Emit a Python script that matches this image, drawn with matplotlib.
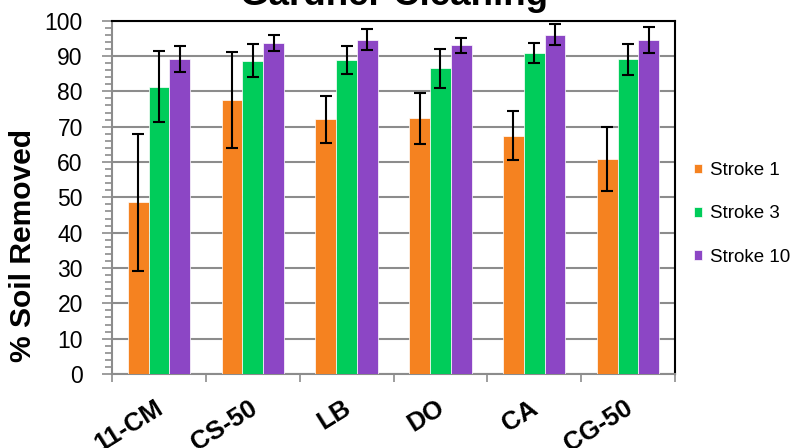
import numpy as np
import matplotlib
matplotlib.use('Agg')
import matplotlib.pyplot as plt
import matplotlib.transforms as mtransforms
from matplotlib.ticker import MultipleLocator

plt.rcParams['font.family'] = ['Liberation Sans', 'DejaVu Sans']

# datos
categorias = ['11-CM', 'CS-50', 'LB', 'DO', 'CA', 'CG-50']
series = ['Stroke 1', 'Stroke 3', 'Stroke 10']
stroke1 = [48.6, 77.6, 72.1, 72.4, 67.5, 60.9]
stroke3 = [81.3, 88.7, 88.9, 86.5, 90.9, 89.1]
stroke10 = [89.2, 93.7, 94.6, 93.0, 96.0, 94.5]
err1 = [19.4, 13.5, 6.6, 7.2, 7.0, 9.0]
err3 = [10.1, 4.7, 4.0, 5.5, 2.9, 4.4]
err10 = [3.6, 2.3, 3.0, 2.2, 3.0, 3.7]
colores = ['#F58220', '#00CC5A', '#8C46C5']

fig = plt.figure(figsize=(7.92, 4.48), dpi=100)
ax = fig.add_axes([112/792, 1 - 374/448, (675-112)/792, (374-20.7)/448])

x = np.arange(len(categorias))
ancho = 0.222
valores = [stroke1, stroke3, stroke10]
errores = [err1, err3, err10]
for i in range(3):
    ax.bar(x + (i - 1) * ancho, valores[i], ancho, color=colores[i], label=series[i],
           edgecolor='white', linewidth=0.5, zorder=3)
    ax.errorbar(x + (i - 1) * ancho, valores[i], yerr=errores[i], fmt='none',
                ecolor='black', elinewidth=1.5, capsize=4.3, capthick=1.5, zorder=4)

ax.set_xlim(-0.5, len(categorias) - 0.5)
ax.set_ylim(0, 100)
ax.set_yticks(range(0, 101, 10))
ax.yaxis.set_minor_locator(MultipleLocator(2))
ax.grid(axis='y', color='#8c8c8c', linewidth=1.5, zorder=0)

ax.set_xticks(np.arange(len(categorias) + 1) - 0.5)
ax.set_xticklabels([])
ax.set_xticks(x, categorias, minor=True)
ax.tick_params(axis='x', which='major', length=6, width=1.2, color='#8c8c8c')
ax.tick_params(axis='x', which='minor', length=0, pad=0)
off = mtransforms.ScaledTranslation(2/100, -32/100, fig.dpi_scale_trans)
for lab in ax.get_xticklabels(minor=True):
    lab.set_rotation(32)
    lab.set_ha('right')
    lab.set_va('center')
    lab.set_rotation_mode('anchor')
    lab.set_fontsize(18.5)
    lab.set_fontweight('bold')
    lab.set_transform(lab.get_transform() + off)

ax.tick_params(axis='y', which='both', direction='out', color='#8c8c8c', width=1.2, labelsize=16.5)
ax.tick_params(axis='y', which='major', length=7, pad=14)
ax.tick_params(axis='y', which='minor', length=5)

for s in ['left', 'bottom']:
    ax.spines[s].set_color('#8c8c8c')
    ax.spines[s].set_linewidth(1.5)
for s in ['top', 'right']:
    ax.spines[s].set_color('black')
    ax.spines[s].set_linewidth(1.5)

fig.text(23/792, 1 - 245/448, '% Soil Removed', rotation=90, ha='center', va='center',
         fontsize=21.6, fontweight='bold')
fig.text(0.4975, 1 - 5/448, 'Gardner Cleaning', ha='center', va='baseline',
         fontsize=26.5, fontweight='bold')

ax.legend(loc='center left', bbox_to_anchor=(694/792, 1 - 214/448),
          bbox_transform=fig.transFigure, frameon=False, fontsize=13.5,
          handlelength=0.4, handleheight=0.4, handletextpad=0.45,
          labelspacing=1.4, borderpad=0, borderaxespad=0)

fig.savefig('out.png', dpi=100)
